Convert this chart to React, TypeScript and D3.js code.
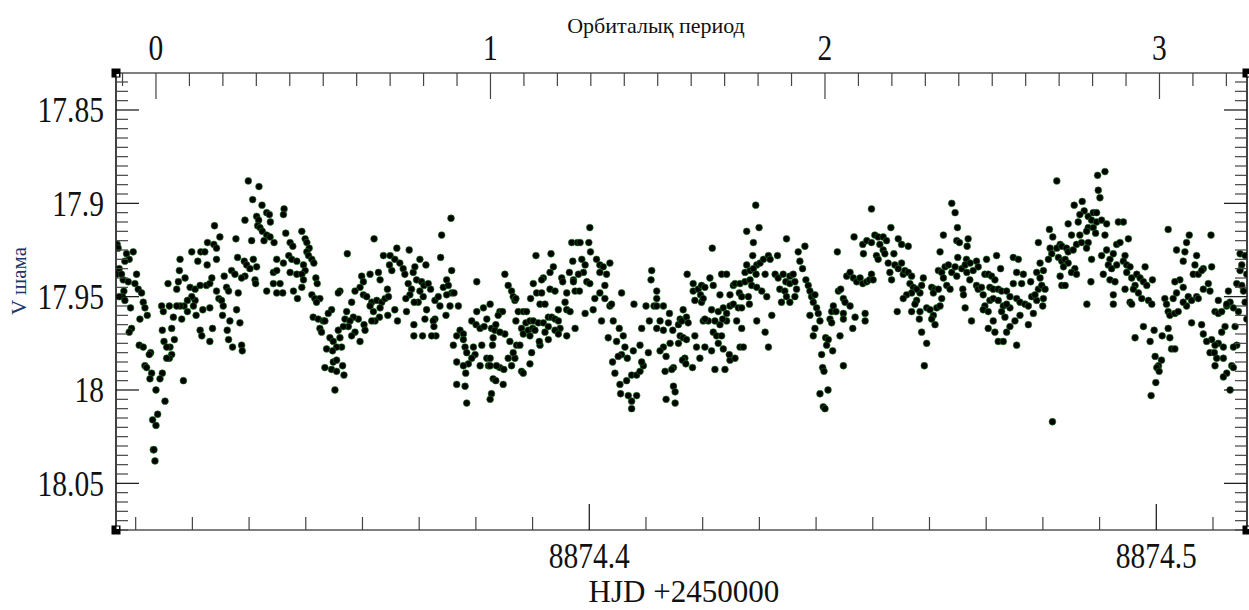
import React from 'react';
import * as d3 from 'd3';

// Ephemeris linking the top axis (orbital cycle) to HJD-2450000
const T0 = 8874.32358;
const PERIOD = 0.058995;

const yMajorTicks = [17.85, 17.9, 17.95, 18, 18.05];
const yTickLabels = ['17.85', '17.9', '17.95', '18', '18.05'];
const hjdMajorTicks = [8874.4, 8874.5];
const hjdTickLabels = ['8874.4', '8874.5'];
const cycleMajorTicks = [0, 1, 2, 3];
const cycleTickLabels = ['0', '1', '2', '3'];

// Observations: [orbital cycle, V magnitude]
const obsCyclesA: [number, number][] = [
[0.276,17.888],[0.308,17.891],[0.289,17.898],[0.317,17.901],[0.383,17.903],[0.381,17.906],[0.301,17.907],[0.331,17.905],[0.339,17.906],[0.307,17.909],[0.266,17.909],[0.342,17.910],[0.304,17.912],[0.175,17.912],[0.311,17.913],[0.318,17.915],[0.191,17.918],[0.239,17.919],[0.286,17.920],[0.331,17.917],[0.341,17.918],[0.323,17.920],[0.353,17.921],[0.388,17.916],[0.401,17.921],[0.409,17.923],[0.154,17.921],[0.173,17.922],[0.181,17.924],[0.107,17.926],[0.134,17.926],[0.146,17.926],[0.125,17.931],[0.072,17.930],[0.153,17.933],[0.181,17.930],[0.244,17.929],[0.264,17.931],[0.291,17.930],[0.271,17.933],[0.281,17.935],[0.301,17.934],[0.361,17.930],[0.397,17.928],[0.406,17.930],[0.421,17.931],[0.351,17.937],[0.361,17.936],[0.381,17.932],[0.401,17.937],[0.421,17.938],[0.266,17.939],[0.256,17.940],[0.296,17.941],[0.298,17.943],[0.331,17.947],[0.351,17.943],[0.371,17.943],[0.379,17.948],[0.361,17.948],[0.411,17.947],[0.423,17.951],[0.070,17.936],[0.087,17.940],[0.067,17.942],[0.036,17.943],[0.062,17.946],[0.102,17.945],[0.117,17.946],[0.132,17.944],[0.151,17.944],[0.161,17.943],[0.167,17.940],[0.204,17.939],[0.226,17.936],[0.236,17.938],[0.211,17.945],[0.217,17.947],[0.246,17.948],[0.181,17.947],[0.188,17.951],[0.196,17.952],[0.201,17.955],[0.241,17.957],[0.161,17.956],[0.140,17.957],[0.117,17.952],[0.107,17.950],[0.094,17.952],[0.084,17.955],[0.072,17.955],[0.062,17.955],[0.040,17.955],[0.017,17.955],[0.022,17.958],[0.052,17.961],[0.077,17.962],[0.094,17.958],[0.112,17.955],[0.120,17.960],[0.199,17.960],[0.221,17.963],[0.251,17.964],[0.132,17.968],[0.169,17.967],[0.213,17.968],[0.137,17.971],[0.161,17.974],[0.217,17.973],[0.229,17.977],[0.256,17.976],[0.258,17.979],[0.047,17.967],[0.019,17.968],[0.055,17.973],[0.024,17.974],[0.042,17.977],[0.032,17.977],[0.047,17.981],[0.040,17.983],[0.032,17.983],
[-0.116,17.922],[-0.113,17.924],[-0.088,17.927],[-0.068,17.926],[-0.080,17.930],[-0.093,17.931],[-0.110,17.935],[-0.118,17.938],[-0.103,17.938],[-0.058,17.938],[-0.098,17.941],[-0.083,17.942],[-0.063,17.943],[-0.053,17.946],[-0.043,17.948],[-0.096,17.947],[-0.100,17.950],[-0.110,17.950],[-0.093,17.952],[-0.076,17.956],[-0.038,17.953],[-0.033,17.956],[-0.026,17.960],[-0.048,17.962],[-0.073,17.967],[-0.080,17.969],[-0.050,17.976],[-0.038,17.977],[-0.016,17.980],[-0.020,17.981],[-0.033,17.987],[-0.028,17.988],[-0.013,17.991],[-0.018,17.994],[0.019,17.991],[0.012,17.994],[0.000,18.000],[0.082,17.995],[0.027,18.006],[0.005,18.013],[-0.010,18.016],[0.000,18.019],[-0.008,18.032],[-0.006,18.032],[-0.003,18.038]
];

const obsCyclesB: [number, number][] = [
[0.436,17.915],[0.446,17.919],[0.451,17.921],[0.458,17.924],[0.451,17.926],[0.456,17.928],[0.466,17.930],[0.472,17.932],[0.441,17.933],[0.446,17.936],[0.436,17.938],[0.441,17.941],[0.478,17.940],[0.482,17.943],[0.436,17.945],[0.466,17.949],[0.475,17.951],[0.490,17.951],[0.480,17.953],[0.470,17.961],[0.485,17.962],[0.500,17.963],[0.525,17.957],[0.515,17.959],[0.505,17.963],[0.490,17.967],[0.495,17.969],[0.520,17.972],[0.530,17.974],[0.550,17.972],[0.545,17.968],[0.555,17.977],[0.540,17.977],[0.528,17.979],[0.510,17.978],[0.530,17.985],[0.540,17.984],[0.558,17.987],[0.505,17.988],[0.525,17.989],[0.540,17.990],[0.562,17.992],[0.535,18.000],
[0.572,17.927],[0.652,17.919],[0.680,17.928],[0.720,17.924],[0.757,17.925],[0.700,17.928],[0.714,17.930],[0.729,17.932],[0.739,17.935],[0.705,17.936],[0.698,17.933],[0.744,17.938],[0.769,17.937],[0.774,17.934],[0.789,17.930],[0.807,17.933],[0.615,17.939],[0.640,17.938],[0.665,17.937],[0.670,17.941],[0.620,17.942],[0.610,17.945],[0.595,17.947],[0.585,17.953],[0.620,17.949],[0.550,17.947],[0.545,17.948],[0.630,17.950],[0.645,17.953],[0.640,17.955],[0.660,17.952],[0.675,17.953],[0.685,17.951],[0.695,17.950],[0.692,17.946],[0.670,17.956],[0.650,17.958],[0.668,17.961],[0.655,17.963],[0.645,17.963],[0.605,17.962],[0.590,17.961],[0.570,17.958],[0.565,17.962],[0.580,17.963],[0.575,17.966],[0.595,17.969],[0.585,17.971],[0.610,17.974],[0.622,17.965],[0.625,17.968],[0.560,17.966],[0.693,17.960],[0.714,17.957],[0.722,17.963],[0.749,17.958],[0.754,17.943],[0.764,17.946],[0.759,17.949],[0.747,17.951],[0.779,17.941],[0.794,17.942],[0.801,17.944],[0.814,17.943],[0.789,17.947],[0.799,17.950],[0.784,17.953],[0.809,17.957],[0.772,17.953],[0.821,17.946],[0.834,17.952],[0.844,17.950],[0.849,17.955],[0.859,17.945],[0.869,17.941],[0.874,17.944],[0.884,17.948],[0.869,17.949],[0.891,17.948],[0.904,17.955],[0.879,17.955],[0.867,17.960],[0.834,17.962],[0.829,17.963],[0.831,17.966],[0.837,17.971],[0.824,17.971],[0.797,17.971],[0.771,17.971],[0.771,17.965],[0.804,17.962],[0.854,17.917],[0.851,17.929],[0.884,17.936],[0.882,17.908],[0.959,17.942],
[0.889,17.976],[0.909,17.968],[0.919,17.970],[0.899,17.971],[0.919,17.973],[0.924,17.977],[0.929,17.980],[0.944,17.963],[0.959,17.958],[0.979,17.956],[0.957,17.965],[0.969,17.967],[0.981,17.966],[0.989,17.962],[0.974,17.976],[0.949,17.977],[0.954,17.981],[0.944,17.983],[0.934,17.986],[0.919,17.987],[0.899,17.985],[0.926,17.991],[0.989,17.983],[0.994,17.987],[0.899,17.997],[0.929,18.007],[0.924,17.998],[0.969,17.987]
];

const obsCyclesC: [number, number][] = [
[0.999,17.954],[1.003,17.967],[1.013,17.968],[1.008,17.972],[1.006,17.976],[0.999,17.983],[0.999,17.987],[1.008,17.994],[1.016,17.995],[1.003,18.002],[0.999,18.005],[1.038,17.997],[1.028,17.988],[1.018,17.987],[1.040,17.989],[1.063,17.987],[1.053,17.983],[1.073,17.983],[1.068,17.980],[1.078,17.976],[1.088,17.976],[1.058,17.974],[1.043,17.970],[1.028,17.969],[1.016,17.965],[1.028,17.958],[1.036,17.958],[1.023,17.960],[1.043,17.938],[1.053,17.944],[1.063,17.947],[1.068,17.950],[1.073,17.952],[1.076,17.951],[1.083,17.958],[1.076,17.963],[1.098,17.958],[1.108,17.958],[1.093,17.967],[1.098,17.970],[1.113,17.968],[1.106,17.964],[1.118,17.963],[1.128,17.963],[1.143,17.964],[1.126,17.967],[1.133,17.968],[1.118,17.971],[1.123,17.980],[1.118,17.986],[1.093,17.990],[1.098,17.991],[1.148,17.976],[1.146,17.974],[1.163,17.969],[1.173,17.973],[1.158,17.964],[1.173,17.961],[1.183,17.961],[1.193,17.962],[1.203,17.963],[1.208,17.967],[1.193,17.968],[1.203,17.970],[1.228,17.971],[1.253,17.967],[1.173,17.966],[1.120,17.951],[1.128,17.943],[1.138,17.948],[1.153,17.948],[1.158,17.940],[1.153,17.941],[1.178,17.946],[1.193,17.947],[1.148,17.954],[1.163,17.954],[1.178,17.937],[1.188,17.934],[1.136,17.928],[1.181,17.927],[1.213,17.940],[1.216,17.942],[1.203,17.957],[1.228,17.957],[1.238,17.958],[1.223,17.953],[1.228,17.948],[1.236,17.937],[1.248,17.941],[1.243,17.921],[1.260,17.921],[1.268,17.921],[1.294,17.921],[1.297,17.913],[1.299,17.926],[1.246,17.931],[1.273,17.930],[1.283,17.933],[1.278,17.937],[1.263,17.938],[1.248,17.942],[1.253,17.947],[1.266,17.947],[1.288,17.942],[1.297,17.943],[1.317,17.930],[1.327,17.933],[1.337,17.934],[1.357,17.932],[1.327,17.937],[1.347,17.938],[1.342,17.944],[1.327,17.948],[1.342,17.951],[1.357,17.955],[1.362,17.954],[1.312,17.951],[1.307,17.957],[1.283,17.959],[1.332,17.963],[1.352,17.972],[1.392,17.948],[1.367,17.963],[1.385,17.967],[1.377,17.974],[1.397,17.971],[1.402,17.977],[1.392,17.981],[1.382,17.982],[1.409,17.983],[1.365,17.985],[1.372,17.991],[1.387,17.997],[1.407,17.995],[1.422,17.992],[1.437,17.992],[1.447,17.990],[1.457,17.987],[1.452,17.985],[1.447,17.976],[1.472,17.980],[1.427,17.979],[1.412,18.003],[1.389,18.002],[1.437,18.003],[1.422,18.006],[1.422,18.010],[1.429,17.954],[1.452,17.967],[1.465,17.955],[1.475,17.963],[1.482,17.936],[1.480,17.941],[1.497,17.947],[1.497,17.951],[1.489,17.955],[1.497,17.955],[1.517,17.955],[1.535,17.959],[1.507,17.963],[1.497,17.967],[1.517,17.968],[1.532,17.964],[1.545,17.968],[1.562,17.965],[1.562,17.975],[1.537,17.975],[1.517,17.977],[1.507,17.979],[1.525,17.982],[1.522,17.990],[1.547,17.988],[1.542,17.989],[1.547,17.998],[1.552,18.001],[1.525,18.005],[1.552,18.007]
];

const obsCyclesD: [number, number][] = [
[1.567,17.962],[1.572,17.963],[1.586,17.961],[1.591,17.964],[1.576,17.957],[1.567,17.971],[1.576,17.972],[1.586,17.973],[1.611,17.971],[1.616,17.977],[1.641,17.977],[1.661,17.979],[1.581,17.983],[1.574,17.984],[1.584,17.986],[1.604,17.988],[1.626,17.983],[1.671,17.989],[1.701,17.989],[1.716,17.984],[1.714,17.981],[1.696,17.978],[1.681,17.975],[1.666,17.969],[1.676,17.971],[1.691,17.971],[1.686,17.965],[1.671,17.963],[1.651,17.963],[1.636,17.963],[1.641,17.962],[1.661,17.957],[1.681,17.958],[1.696,17.956],[1.706,17.959],[1.716,17.955],[1.726,17.954],[1.741,17.956],[1.751,17.956],[1.736,17.963],[1.751,17.967],[1.746,17.977],[1.756,17.977],[1.731,17.983],[1.706,17.963],[1.694,17.962],[1.588,17.938],[1.606,17.943],[1.606,17.947],[1.621,17.946],[1.631,17.944],[1.641,17.945],[1.656,17.940],[1.666,17.944],[1.628,17.949],[1.611,17.952],[1.631,17.953],[1.636,17.951],[1.686,17.949],[1.691,17.938],[1.706,17.938],[1.716,17.949],[1.726,17.944],[1.731,17.943],[1.746,17.943],[1.761,17.942],[1.776,17.941],[1.781,17.944],[1.744,17.948],[1.751,17.950],[1.771,17.950],[1.774,17.954],[1.796,17.945],[1.811,17.947],[1.826,17.950],[1.821,17.938],[1.841,17.960],[1.796,17.963],[1.821,17.969],[1.831,17.977],[1.796,17.933],[1.806,17.932],[1.816,17.930],[1.831,17.928],[1.836,17.930],[1.766,17.933],[1.761,17.937],[1.776,17.936],[1.786,17.935],[1.794,17.938],[1.784,17.928],[1.786,17.921],[1.766,17.915],[1.803,17.913],[1.793,17.901],[1.663,17.924],[1.858,17.928],[1.885,17.919],[1.851,17.938],[1.860,17.940],[1.875,17.938],[1.883,17.942],[1.895,17.939],[1.905,17.938],[1.895,17.943],[1.910,17.942],[1.865,17.946],[1.880,17.947],[1.885,17.950],[1.870,17.953],[1.895,17.953],[1.910,17.950],[1.915,17.946],[1.920,17.926],[1.925,17.931],[1.933,17.935],[1.940,17.923],[1.943,17.941],[1.950,17.944],[1.955,17.947],[1.960,17.950],[1.965,17.953],[1.970,17.949],[1.975,17.956],[1.980,17.959],[1.985,17.963],[1.955,17.960],[1.970,17.967],[1.965,17.971],[1.990,17.981],[1.993,17.988],[1.997,17.990],[2.002,17.972],[2.010,17.973],[2.005,17.976],[2.023,17.979],[1.985,18.002],[2.009,18.000],[1.995,18.009],[2.000,18.010],[2.015,17.962],[2.020,17.964],[2.020,17.958],[2.025,17.955],[2.033,17.958],[2.037,17.926],[2.040,17.947],[2.047,17.946],[2.055,17.951],[2.060,17.953],[2.075,17.955],[2.065,17.939],[2.075,17.937],[2.085,17.940],[2.095,17.942],[2.105,17.940],[2.113,17.943],[2.125,17.942],[2.133,17.941],[2.055,17.959],[2.055,17.962],[2.045,17.971],[2.083,17.967],[2.090,17.961],[2.120,17.959],[2.120,17.963],[2.055,17.987],[2.087,17.918],[2.113,17.922],[2.115,17.927],[2.125,17.920]
];

const obsCyclesE: [number, number][] = [
[2.139,17.903],[2.149,17.917],[2.159,17.918],[2.174,17.918],[2.184,17.920],[2.197,17.913],[2.219,17.919],[2.229,17.922],[2.249,17.923],[2.139,17.921],[2.164,17.922],[2.174,17.925],[2.154,17.928],[2.159,17.930],[2.179,17.927],[2.206,17.927],[2.139,17.938],[2.144,17.941],[2.189,17.932],[2.194,17.937],[2.199,17.941],[2.209,17.933],[2.219,17.935],[2.229,17.932],[2.234,17.938],[2.239,17.936],[2.249,17.937],[2.259,17.939],[2.254,17.943],[2.264,17.945],[2.289,17.944],[2.294,17.940],[2.284,17.948],[2.274,17.946],[2.259,17.948],[2.244,17.949],[2.234,17.951],[2.274,17.952],[2.269,17.954],[2.259,17.958],[2.284,17.958],[2.282,17.962],[2.304,17.956],[2.314,17.957],[2.324,17.960],[2.334,17.956],[2.344,17.955],[2.349,17.951],[2.319,17.945],[2.329,17.946],[2.324,17.948],[2.339,17.946],[2.216,17.958],[2.289,17.969],[2.304,17.975],[2.297,17.987],[2.319,17.962],[2.329,17.965],[2.344,17.926],[2.354,17.917],[2.379,17.900],[2.389,17.905],[2.396,17.913],[2.394,17.920],[2.402,17.921],[2.428,17.919],[2.425,17.923],[2.397,17.929],[2.423,17.930],[2.339,17.936],[2.349,17.937],[2.359,17.934],[2.369,17.933],[2.379,17.937],[2.354,17.940],[2.364,17.944],[2.374,17.946],[2.389,17.934],[2.394,17.939],[2.409,17.935],[2.419,17.933],[2.424,17.937],[2.434,17.932],[2.453,17.931],[2.458,17.934],[2.443,17.936],[2.412,17.946],[2.414,17.949],[2.419,17.956],[2.438,17.963],[2.433,17.941],[2.453,17.944],[2.458,17.946],[2.468,17.945],[2.483,17.930],[2.473,17.949],[2.478,17.938],[2.488,17.938],[2.498,17.939],[2.513,17.928],[2.525,17.935],[2.508,17.941],[2.493,17.945],[2.503,17.946],[2.518,17.946],[2.528,17.947],[2.543,17.947],[2.553,17.950],[2.493,17.952],[2.503,17.951],[2.518,17.952],[2.533,17.955],[2.478,17.955],[2.473,17.957],[2.488,17.958],[2.528,17.958],[2.538,17.961],[2.553,17.956],[2.543,17.954],[2.503,17.963],[2.488,17.967],[2.508,17.969],[2.543,17.969],[2.553,17.966],[2.518,17.974],[2.533,17.974],[2.573,17.976],[2.563,17.929],[2.578,17.930],[2.573,17.937],[2.593,17.938],[2.563,17.943],[2.573,17.951],[2.583,17.953],[2.598,17.954],[2.608,17.955],[2.615,17.942],[2.588,17.943],[2.568,17.963],[2.583,17.960],[2.608,17.965],[2.623,17.959],[2.633,17.952],[2.638,17.946],[2.618,17.950],[2.628,17.949],[2.653,17.951],[2.651,17.955],[2.638,17.921],[2.643,17.932],[2.633,17.937],[2.653,17.936],[2.643,17.940],[2.648,17.944],[2.658,17.946],[2.671,17.914],[2.681,17.918],[2.673,17.924],[2.678,17.927],[2.668,17.930],[2.680,18.017]
];

const obsCyclesF: [number, number][] = [
[2.693,17.888],[2.815,17.885],[2.837,17.883],[2.817,17.893],[2.822,17.897],[2.745,17.901],[2.769,17.899],[2.775,17.904],[2.762,17.906],[2.787,17.907],[2.802,17.905],[2.812,17.905],[2.797,17.909],[2.812,17.910],[2.827,17.909],[2.842,17.911],[2.727,17.911],[2.757,17.910],[2.787,17.913],[2.802,17.913],[2.809,17.916],[2.782,17.915],[2.762,17.917],[2.737,17.917],[2.837,17.917],[2.877,17.910],[2.892,17.910],[2.703,17.922],[2.693,17.924],[2.708,17.923],[2.722,17.924],[2.727,17.926],[2.742,17.925],[2.752,17.922],[2.767,17.921],[2.787,17.921],[2.782,17.924],[2.698,17.929],[2.708,17.931],[2.718,17.930],[2.727,17.932],[2.713,17.934],[2.747,17.935],[2.737,17.937],[2.752,17.938],[2.703,17.939],[2.708,17.944],[2.718,17.944],[2.797,17.930],[2.827,17.928],[2.842,17.925],[2.852,17.930],[2.862,17.927],[2.872,17.922],[2.882,17.921],[2.907,17.919],[2.897,17.928],[2.892,17.931],[2.902,17.933],[2.912,17.934],[2.847,17.933],[2.857,17.935],[2.872,17.933],[2.832,17.938],[2.852,17.941],[2.867,17.942],[2.902,17.937],[2.897,17.946],[2.917,17.940],[2.932,17.938],[2.942,17.940],[2.957,17.934],[2.952,17.942],[2.962,17.944],[2.927,17.944],[2.922,17.946],[2.937,17.948],[2.947,17.951],[2.967,17.952],[2.979,17.941],[2.977,17.954],[2.912,17.953],[2.917,17.954],[2.862,17.949],[2.862,17.954],[2.795,17.942],[2.783,17.954],[3.026,17.914],[3.089,17.917],[3.154,17.917],[3.051,17.925],[3.081,17.921],[3.076,17.926],[3.111,17.928],[3.071,17.931],[3.106,17.933],[3.131,17.935],[3.156,17.934],[3.101,17.938],[3.116,17.938],[3.126,17.936],[3.061,17.941],[3.046,17.942],[3.071,17.945],[3.051,17.948],[3.041,17.951],[3.086,17.950],[3.096,17.952],[3.111,17.950],[3.116,17.951],[3.131,17.946],[3.146,17.943],[3.151,17.947],[3.081,17.955],[3.071,17.953],[3.016,17.951],[3.021,17.954],[3.026,17.958],[3.031,17.960],[3.046,17.959],[3.056,17.958],[2.952,17.966],[2.984,17.968],[3.008,17.971],[2.927,17.972],[2.972,17.974],[3.031,17.972],[3.026,17.967],[3.036,17.978],[3.046,17.978],[3.096,17.964],[3.126,17.965],[3.131,17.970],[3.176,17.952],[3.166,17.958],[3.176,17.959],[3.186,17.958],[3.201,17.955],[3.211,17.953],[3.206,17.947],[3.196,17.966],[3.186,17.969],[3.176,17.975],[3.166,17.976],[3.191,17.977],[3.226,17.966],[3.231,17.976],[3.221,17.977],[3.156,17.973],[3.141,17.974],[3.151,17.980],[3.171,17.983],[3.166,17.987],[3.191,17.983],[3.164,17.980],[3.216,17.987],[3.221,17.988],[3.201,17.991],[3.191,17.993],[2.987,17.982],[3.006,17.984],[2.997,17.987],[2.992,17.988],[2.999,17.990],[2.989,17.996],[2.975,18.003],[3.211,18.000],[3.241,17.927],[3.256,17.928],[3.246,17.933],[3.241,17.936],[3.261,17.938],[3.231,17.943],[3.246,17.944],[3.251,17.947],[3.256,17.953],[3.236,17.958],[3.261,17.962],[3.221,17.956],[3.201,17.954]
];

const observations = [obsCyclesA, obsCyclesB, obsCyclesC, obsCyclesD, obsCyclesE, obsCyclesF].flat();

const FONT = '"Liberation Serif", "Times New Roman", serif';

export default function App() {
  const W = 1249, H = 610;
  const L = 116, R = 1247, T = 73, B = 530;

  const x = d3.scaleLinear().domain([8874.31653, 8874.516]).range([L, R]);
  const y = d3.scaleLinear().domain([17.83018, 18.075]).range([T, B]);
  const xc = (c: number) => x(T0 + PERIOD * c);

  const yMinor = d3.range(3567, 3616).map(i => i * 0.005);
  const xMinor = d3.range(887432, 887452).map(i => i / 100).filter(v => x(v) <= R);
  const cMinor = d3.range(-1, 33).map(i => i / 10).filter(v => xc(v) >= L && xc(v) <= R);

  const tickColor = '#444';
  const isMajor = (v: number, majors: number[]) => majors.some(m => Math.abs(m - v) < 1e-6);

  return (
    <svg width={W} height={H} style={{ position: 'absolute', left: 0, top: 0, background: '#fff' }}>
      <defs>
        <clipPath id="plotClip">
          <rect x={L} y={T} width={R - L} height={B - T} />
        </clipPath>
      </defs>
      <rect x={0} y={0} width={W} height={H} fill="#fff" />

      {/* data */}
      <g clipPath="url(#plotClip)">
        {observations.map((d, i) => (
          <circle key={i} cx={xc(d[0])} cy={y(d[1])} r={3.4} fill="#000" stroke="#1d7a1d" strokeWidth={0.6} />
        ))}
      </g>

      {/* frame */}
      <line x1={L} y1={T} x2={R} y2={T} stroke="#555" strokeWidth={1.4} />
      <line x1={L} y1={B} x2={R} y2={B} stroke="#555" strokeWidth={1.4} />
      <line x1={L} y1={T} x2={L} y2={B} stroke="#111" strokeWidth={1.6} />
      <line x1={R} y1={T} x2={R} y2={B} stroke="#111" strokeWidth={1.6} />

      {/* y ticks left and right */}
      {yMinor.map((v, i) => {
        const major = Math.round(v / 0.005) % 10 === 0;
        const len = major ? 23 : 12;
        return (
          <g key={'y' + i}>
            <line x1={L} x2={L + len} y1={y(v)} y2={y(v)} stroke={major ? '#111' : tickColor} strokeWidth={1.2} />
            <line x1={R} x2={R - len} y1={y(v)} y2={y(v)} stroke={major ? '#111' : tickColor} strokeWidth={1.2} />
          </g>
        );
      })}
      {yMajorTicks.map((v, i) => (
        <text key={'yl' + i} transform={`translate(104,${y(v) + 12.5}) scale(0.82,1)`} textAnchor="end" fontFamily={FONT} fontSize={36} fill="#111">
          {yTickLabels[i]}
        </text>
      ))}

      {/* bottom HJD ticks */}
      {xMinor.map((v, i) => {
        const major = isMajor(v, hjdMajorTicks);
        return <line key={'x' + i} x1={x(v)} x2={x(v)} y1={B} y2={B - (major ? 26 : 13)} stroke={major ? '#111' : tickColor} strokeWidth={1.2} />;
      })}
      {hjdMajorTicks.map((v, i) => (
        <text key={'xl' + i} transform={`translate(${x(v)},568) scale(0.82,1)`} textAnchor="middle" fontFamily={FONT} fontSize={36} fill="#111">
          {hjdTickLabels[i]}
        </text>
      ))}
      <text transform={`translate(684,602) scale(0.97,1)`} textAnchor="middle" fontFamily={FONT} fontSize={32} fill="#111">HJD +2450000</text>

      {/* top orbital cycle ticks */}
      {cMinor.map((v, i) => {
        const major = isMajor(v, cycleMajorTicks);
        return <line key={'c' + i} x1={xc(v)} x2={xc(v)} y1={T} y2={T + (major ? 26 : 13)} stroke={tickColor} strokeWidth={1.2} />;
      })}
      {cycleMajorTicks.map((v, i) => (
        <text key={'cl' + i} transform={`translate(${xc(v)},60) scale(0.82,1)`} textAnchor="middle" fontFamily={FONT} fontSize={36} fill="#111">
          {cycleTickLabels[i]}
        </text>
      ))}
      <text x={656} y={33} textAnchor="middle" fontFamily={FONT} fontSize={22} fill="#111">Орбиталық период</text>

      {/* y label */}
      <text transform="translate(26,281) rotate(-90)" textAnchor="middle" fontFamily={FONT} fontSize={21} fill="#1c3568">V шама</text>

      {/* corner markers */}
      {[[L, T], [L, B], [R, T], [R, B]].map(([cx, cy], i) => (
        <g key={'k' + i}>
          <rect x={cx - 4.5} y={cy - 4.5} width={9} height={9} fill="#000" />
          <rect x={cx + 0.5} y={cy + (cy === T ? 1 : -3.5)} width={2.5} height={2.5} fill="#fff" />
        </g>
      ))}
    </svg>
  );
}
